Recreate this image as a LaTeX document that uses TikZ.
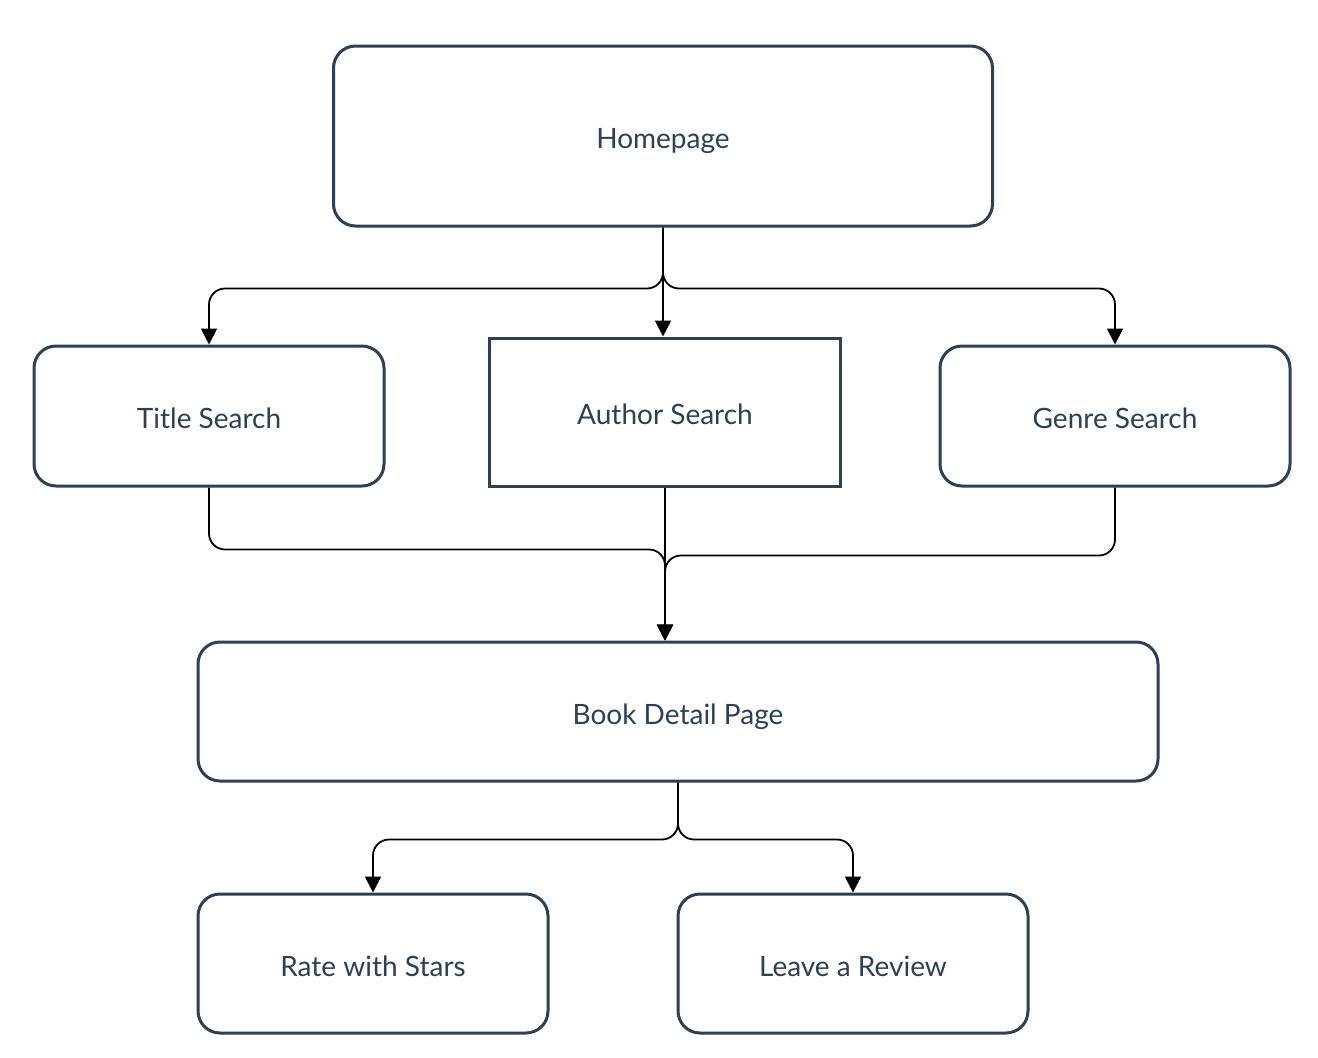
\documentclass[tikz,border=0pt]{standalone}
\usepackage{fontspec}
\setmainfont{Lato}
\usetikzlibrary{arrows.meta,positioning}
\definecolor{slate}{HTML}{2E3F58}
\tikzset{
	page/.style={draw=slate, line width=3pt, rounded corners=22pt, fill=white,
		text=slate, font=\fontsize{28}{33}\selectfont, inner sep=0pt,
		text height=28pt, text depth=3pt},
	sqpage/.style={page, rounded corners=0pt},
	link/.style={draw=black, line width=1.8pt, rounded corners=16pt,
		-{Triangle[width=16pt,length=16pt]}}
}
\begin{document}
\begin{tikzpicture}[x=1pt,y=-1pt]
		\useasboundingbox (0,0) rectangle (1318,1058);
		\node[page, minimum width=659pt, minimum height=180pt] (home) at (663,136) {Homepage};
		\node[page, minimum width=350pt, minimum height=140pt] (title) at (209,416) {Title Search};
		\node[sqpage, minimum width=351pt, minimum height=148pt] (author) at (665,412) {Author Search};
		\node[page, minimum width=350pt, minimum height=140pt] (genre) at (1115,416) {Genre Search};
		\node[page, minimum width=960pt, minimum height=139pt] (book) at (678,711.5) {Book Detail Page};
		\node[page, minimum width=350pt, minimum height=139pt] (rate) at (373,963.5) {Rate with Stars};
		\node[page, minimum width=350pt, minimum height=139pt] (review) at (853,963.5) {Leave a Review};
		\coordinate (bookin) at (author.south |- book.north);
		% homepage to the three searches
		\draw[link] (home.south) -- ++(0,61) -| (title.north);
		\draw[link] (home.south) -- (home.south |- author.north);
		\draw[link] (home.south) -- ++(0,61) -| (genre.north);
		% searches to the detail page
		\draw[link] (title.south) -- ++(0,62) -| (bookin);
		\draw[link] (author.south) -- (bookin);
		\draw[link] (genre.south) -- ++(0,68) -| (bookin);
		% detail page to the two actions
		\draw[link] (book.south) -- ++(0,57) -| (rate.north);
		\draw[link] (book.south) -- ++(0,57) -| (review.north);
	\end{tikzpicture}
\end{document}
